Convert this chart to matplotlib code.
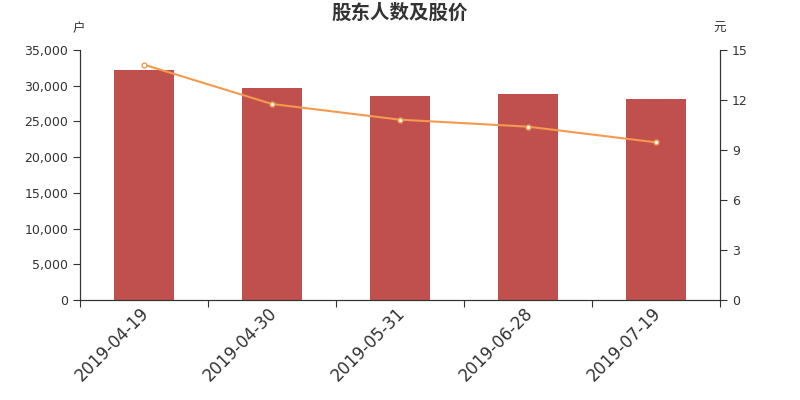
import matplotlib
matplotlib.use('Agg')
import matplotlib.pyplot as plt
from matplotlib.ticker import FuncFormatter

plt.rcParams['font.family'] = ['DejaVu Sans', 'Noto Sans CJK SC']

# data
dates = ['2019-04-19', '2019-04-30', '2019-05-31', '2019-06-28', '2019-07-19']
holders = [32200, 29680, 28520, 28840, 28140]
price = [14.12, 11.76, 10.82, 10.40, 9.46]

bar_color = '#c0504d'
line_color = '#f5994e'
axis_color = '#333333'

fig = plt.figure(figsize=(8, 4), dpi=100)
ax = fig.add_axes([0.1, 0.25, 0.8, 0.625])
x = list(range(len(dates)))
ax.bar(x, holders, width=0.47, color=bar_color, zorder=2)
ax.set_xlim(-0.5, len(dates) - 0.5)
ax.set_ylim(0, 35000)
ax.set_yticks(range(0, 35001, 5000))
ax.yaxis.set_major_formatter(FuncFormatter(lambda v, p: f'{int(v):,}'))

# category boundaries as ticks, labels at centres
ax.set_xticks([i - 0.5 for i in range(len(dates) + 1)])
ax.set_xticklabels([])
ax.set_xticks([i - 0.03 for i in x], minor=True)
ax.set_xticklabels(dates, minor=True, rotation=45, ha='right',
                   rotation_mode='anchor', fontsize=12, color=axis_color)
ax.tick_params(axis='x', which='minor', length=0, pad=3)
ax.tick_params(axis='x', which='major', length=5, color=axis_color)
ax.tick_params(axis='y', length=5, color=axis_color, labelsize=9, labelcolor=axis_color)

ax2 = ax.twinx()
ax2.plot(x, price, color=line_color, lw=1.5, marker='o', ms=3.5,
         mfc='white', mec=line_color, mew=1, zorder=3)
ax2.set_ylim(0, 15)
ax2.set_yticks(range(0, 16, 3))
ax2.tick_params(axis='y', length=5, color=axis_color, labelsize=9, labelcolor=axis_color)

for a in (ax, ax2):
    a.spines['top'].set_visible(False)
    for s in ('left', 'right', 'bottom'):
        a.spines[s].set_color(axis_color)

cjk = ['Noto Sans CJK SC', 'DejaVu Sans']
fig.text(0.5, 0.966, '股东人数及股价', ha='center', va='center',
         fontsize=14, fontweight='bold', color=axis_color, family=cjk)
fig.text(0.099, 0.928, '户', ha='center', va='center', fontsize=9, color=axis_color, family=cjk)
fig.text(0.899, 0.928, '元', ha='center', va='center', fontsize=9, color=axis_color, family=cjk)

fig.savefig('out.png', dpi=100)
